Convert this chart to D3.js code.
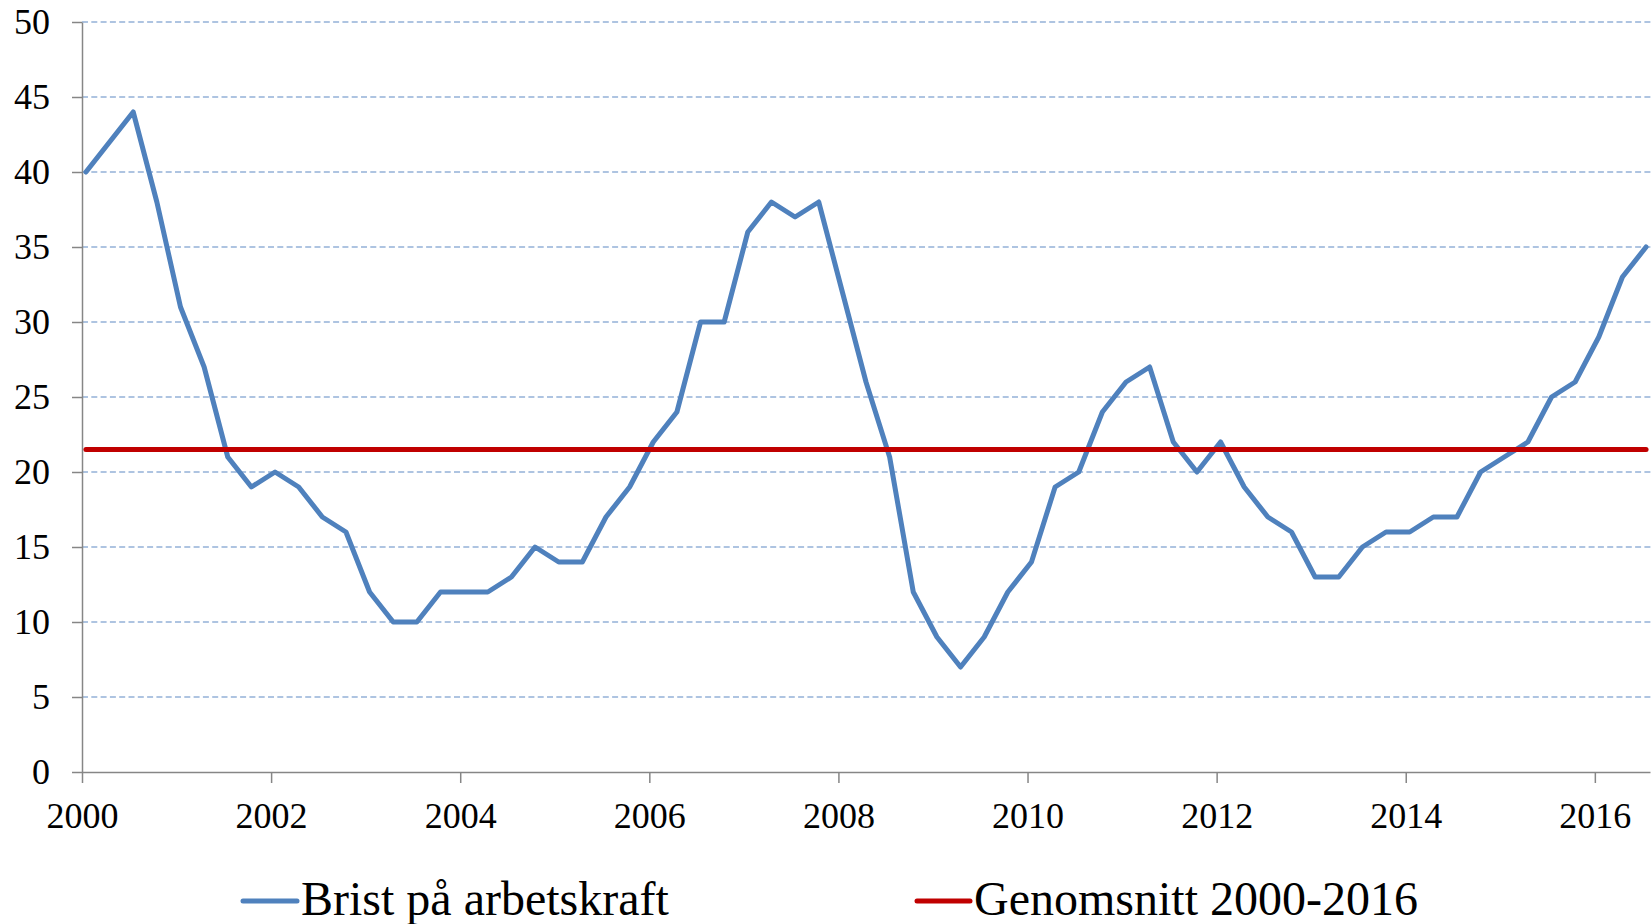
<!DOCTYPE html>
<html>
<head>
<meta charset="utf-8">
<script src="https://cdn.jsdelivr.net/npm/d3@7"></script>
<style>
  html, body { margin: 0; padding: 0; background: #ffffff; }
  svg { display: block; }
</style>
</head>
<body>
<svg id="chart" width="1651" height="924"></svg>
<script>
// Quarterly observations, 2000 Q1 .. 2016 Q3
const startYear = 2000;
const seriesName = "Brist på arbetskraft";
const seriesValues = [
  40, 42, 44, 38, 31, 27, 21, 19, 20, 19,
  17, 16, 12, 10, 10, 12, 12, 12, 13, 15,
  14, 14, 17, 19, 22, 24, 30, 30, 36, 38,
  37, 38, 32, 26, 21, 12, 9, 7, 9, 12,
  14, 19, 20, 24, 26, 27, 22, 20, 22, 19,
  17, 16, 13, 13, 15, 16, 16, 17, 17, 20,
  21, 22, 25, 26, 29, 33, 35
];
const averageName = "Genomsnitt 2000-2016";
const averageValue = 21.5;
const xTickYears = [2000, 2002, 2004, 2006, 2008, 2010, 2012, 2014, 2016];
const yTickValues = [0, 5, 10, 15, 20, 25, 30, 35, 40, 45, 50];

// Each quarter point placed at mid-first-month of quarter
const pointTimes = seriesValues.map((v, i) => startYear + (i * 3 + 0.5) / 12);
const data = seriesValues.map((v, i) => ({ t: pointTimes[i], v }));
const avgData = [{ t: pointTimes[0], v: averageValue }, { t: pointTimes[pointTimes.length - 1], v: averageValue }];

const svg = d3.select("#chart");
const FONT = "'Liberation Serif', 'Times New Roman', serif";

const x = d3.scaleLinear().domain([2000, 2016 + 7 / 12]).range([82, 1650]);
const y = d3.scaleLinear().domain([0, 50]).range([772, 22]);

svg.append("rect").attr("width", 1651).attr("height", 924).attr("fill", "#ffffff");

// Gridlines
svg.append("g")
  .selectAll("line")
  .data(yTickValues.filter(d => d > 0))
  .join("line")
  .attr("x1", x.range()[0])
  .attr("x2", 1651)
  .attr("y1", d => y(d))
  .attr("y2", d => y(d))
  .attr("stroke", "#94b1d8")
  .attr("stroke-width", 1.3)
  .attr("stroke-dasharray", "6,3.3");

// Y axis
const yAxis = svg.append("g")
  .attr("transform", `translate(${x.range()[0]},0)`)
  .call(d3.axisLeft(y).tickValues(yTickValues).tickSizeInner(10).tickSizeOuter(0).tickPadding(22));
yAxis.select(".domain").attr("stroke", "#868686").attr("stroke-width", 1.5);
yAxis.selectAll(".tick line").attr("stroke", "#868686").attr("stroke-width", 1.5);
yAxis.selectAll(".tick text")
  .attr("font-family", FONT).attr("font-size", 36).attr("fill", "#000");

// X axis
const xAxis = svg.append("g")
  .attr("transform", `translate(0,${y(0)})`)
  .call(d3.axisBottom(x).tickValues(xTickYears).tickFormat(d3.format("d")).tickSizeInner(11).tickSizeOuter(0).tickPadding(19));
xAxis.select(".domain").attr("stroke", "#868686").attr("stroke-width", 1.5);
xAxis.selectAll(".tick line").attr("stroke", "#868686").attr("stroke-width", 1.5);
xAxis.selectAll(".tick text")
  .attr("font-family", FONT).attr("font-size", 36).attr("fill", "#000");

const line = d3.line().x(d => x(d.t)).y(d => y(d.v));

// Series
svg.append("path")
  .datum(data)
  .attr("d", line)
  .attr("fill", "none")
  .attr("stroke", "#4f81bd")
  .attr("stroke-width", 5)
  .attr("stroke-linejoin", "round")
  .attr("stroke-linecap", "round");

svg.append("path")
  .datum(avgData)
  .attr("d", line)
  .attr("fill", "none")
  .attr("stroke", "#c00000")
  .attr("stroke-width", 5)
  .attr("stroke-linecap", "round");

// Legend
const legendItems = [
  { name: seriesName, color: "#4f81bd", x0: 243, x1: 297, tx: 301 },
  { name: averageName, color: "#c00000", x0: 917, x1: 970, tx: 974 }
];
const lg = svg.append("g");
legendItems.forEach(it => {
  lg.append("line")
    .attr("x1", it.x0).attr("x2", it.x1)
    .attr("y1", 901).attr("y2", 901)
    .attr("stroke", it.color).attr("stroke-width", 5).attr("stroke-linecap", "round");
  lg.append("text")
    .attr("x", it.tx).attr("y", 915)
    .attr("font-family", FONT).attr("font-size", 48).attr("fill", "#000")
    .text(it.name);
});
</script>
</body>
</html>
